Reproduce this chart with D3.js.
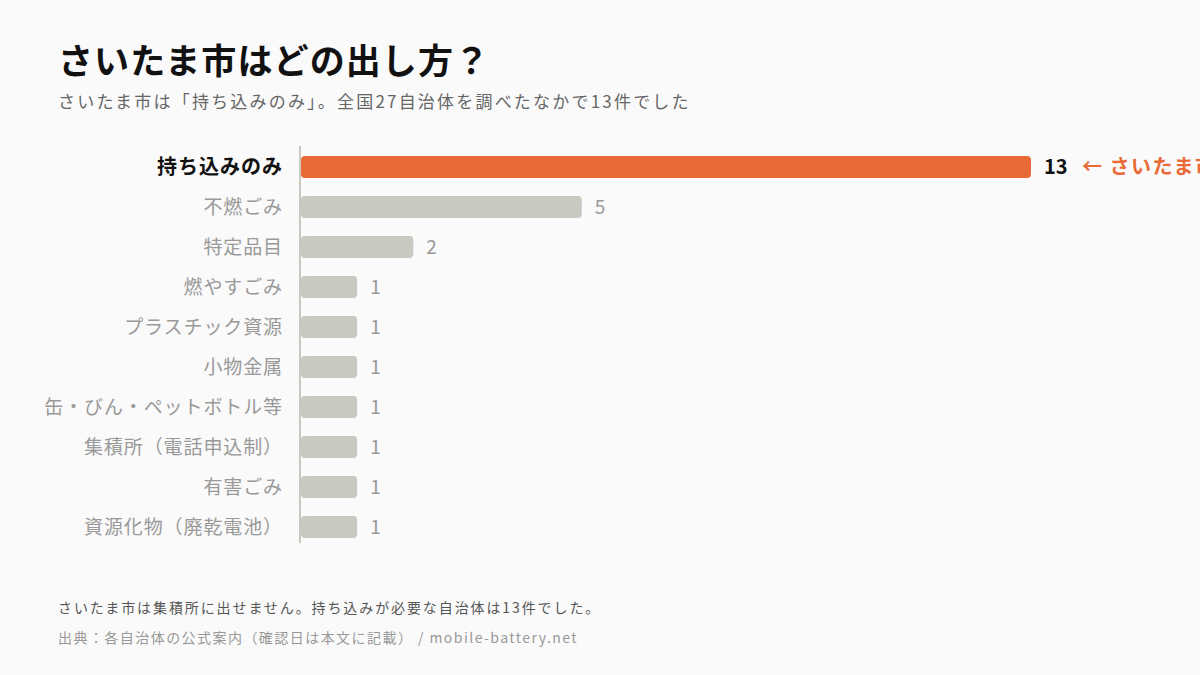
<!DOCTYPE html>
<html><head><meta charset="utf-8">
<script src="https://cdn.jsdelivr.net/npm/d3@7"></script>
<style>
html,body{margin:0;padding:0;background:#fafafa;}
svg{display:block;font-family:"Noto Sans CJK JP","Noto Sans",sans-serif;}
</style></head><body>
<svg id="c" width="1200" height="675"></svg>
<script>
const categories = ["持ち込みのみ","不燃ごみ","特定品目","燃やすごみ","プラスチック資源","小物金属","缶・びん・ペットボトル等","集積所（電話申込制）","有害ごみ","資源化物（廃乾電池）"];
const values = [13,5,2,1,1,1,1,1,1,1];
const highlight = "持ち込みのみ";
const annotation = "← さいたま市";
const title = "さいたま市はどの出し方？";
const subtitle = "さいたま市は「持ち込みのみ」。全国27自治体を調べたなかで13件でした";
const note = "さいたま市は集積所に出せません。持ち込みが必要な自治体は13件でした。";
const source = "出典：各自治体の公式案内（確認日は本文に記載） / mobile-battery.net";

const svg = d3.select("#c");
svg.append("rect").attr("width",1200).attr("height",675).attr("fill","#fafafa");

svg.append("text").attr("x",58).attr("y",74).attr("font-size",35).attr("font-weight",700)
  .attr("fill","#111").attr("letter-spacing",1.1).text(title);
svg.append("text").attr("x",58).attr("y",108).attr("font-size",17).attr("fill","#666")
  .attr("letter-spacing",2.2).text(subtitle);

const x0 = 301;
const x = d3.scaleLinear().domain([0,13]).range([x0,1031]);
const y = d3.scaleBand().domain(categories).range([147,547]).paddingInner(0.45).paddingOuter(0.225);

const g = svg.append("g");
g.selectAll("rect.bar").data(categories).join("rect")
  .attr("class","bar")
  .attr("x",x(0)).attr("y",d=>y(d))
  .attr("width",(d,i)=>x(values[i])-x(0)).attr("height",y.bandwidth())
  .attr("rx",4)
  .attr("fill",d=>d===highlight?"#e86a36":"#c9c9c1");

g.selectAll("text.lab").data(categories).join("text")
  .attr("class","lab")
  .attr("x",283).attr("y",d=>y(d)+y.bandwidth()/2).attr("dy","0.36em")
  .attr("text-anchor","end")
  .attr("font-size",d=>d===highlight?20:19)
  .attr("letter-spacing",d=>d===highlight?1:0.9)
  .attr("font-weight",d=>d===highlight?700:400)
  .attr("fill",d=>d===highlight?"#111":"#999")
  .text(d=>d);

g.selectAll("text.val").data(categories).join("text")
  .attr("class","val")
  .attr("x",(d,i)=>x(values[i])+13).attr("y",d=>y(d)+y.bandwidth()/2).attr("dy","0.36em")
  .attr("font-size",d=>d===highlight?20:19)
  .attr("font-weight",d=>d===highlight?700:400)
  .attr("fill",d=>d===highlight?"#111":"#999")
  .text((d,i)=>values[i]);

const hi = categories.indexOf(highlight);
svg.append("text").attr("x",x(values[hi])+51).attr("y",y(highlight)+y.bandwidth()/2).attr("dy","0.36em")
  .attr("font-size",20).attr("font-weight",700).attr("letter-spacing",1.5).attr("fill","#e86a36").text(annotation);

svg.append("line").attr("x1",300).attr("x2",300).attr("y1",146).attr("y2",543)
  .attr("stroke","#c9c9c1").attr("stroke-width",2);

svg.append("text").attr("x",58).attr("y",613).attr("font-size",14).attr("letter-spacing",1.9).attr("fill","#555").text(note);
svg.append("text").attr("x",58).attr("y",643).attr("font-size",14).attr("letter-spacing",1.45).attr("fill","#999").text(source);
</script>
</body></html>
